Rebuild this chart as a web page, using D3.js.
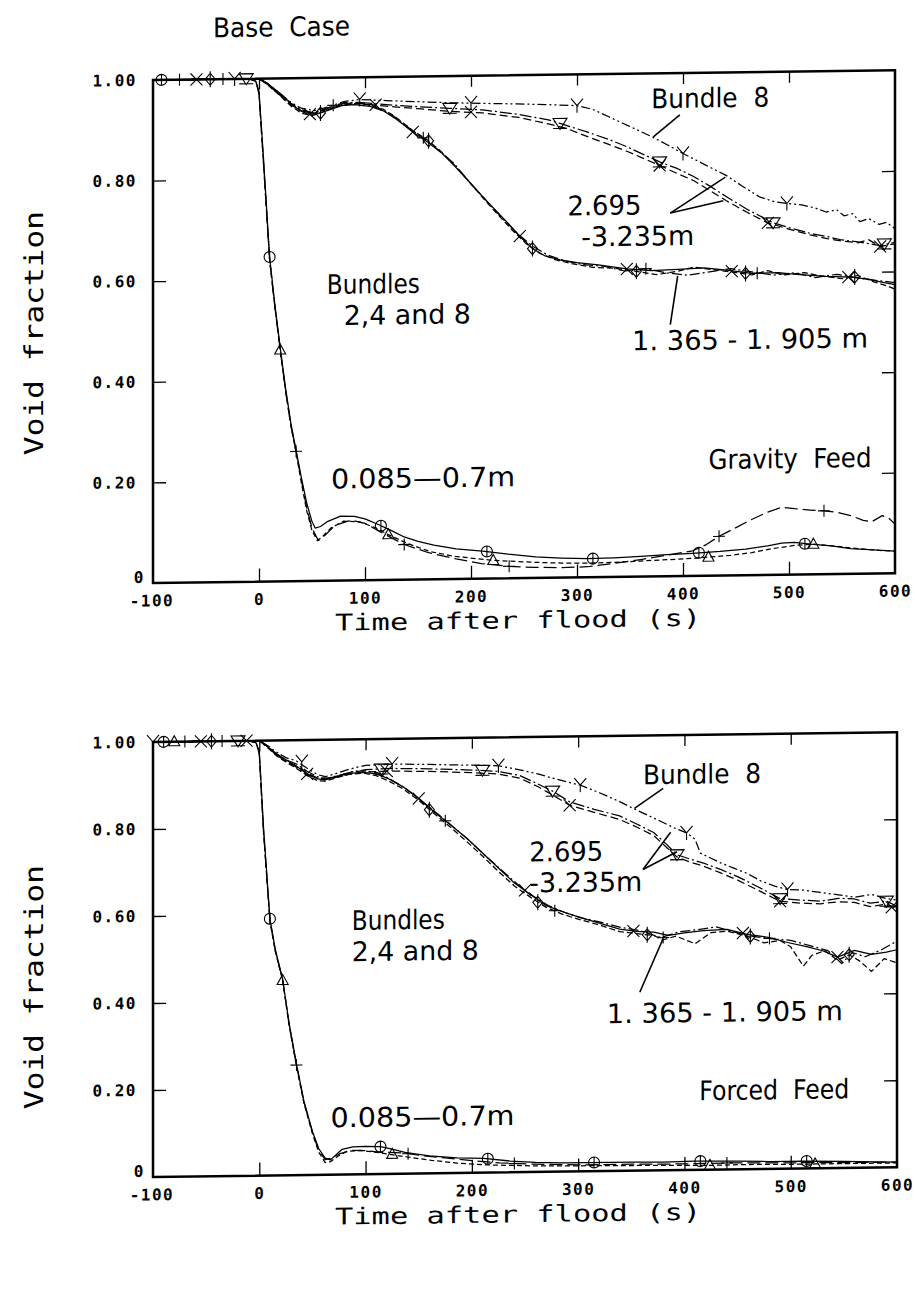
<!DOCTYPE html>
<html><head><meta charset="utf-8">
<script src="https://cdn.jsdelivr.net/npm/d3@7"></script>
<style>
html,body{margin:0;padding:0;background:#fff;}
svg{display:block;}
text{white-space:pre;}
</style></head><body>
<svg id="chart" width="915" height="1305"></svg>
<script>
// ---------- axis ticks ----------
const xTicks = [-100, 0, 100, 200, 300, 400, 500, 600];
const xTickLabels = ["-100", "0", "100", "200", "300", "400", "500", "600"];
const yTicks = [0, 0.2, 0.4, 0.6, 0.8, 1.0];
const yTickLabels = ["0", "0.20", "0.40", "0.60", "0.80", "1.00"];

// ---------- TOP PANEL (Gravity Feed) ----------
// 0.085-0.7 m
const tL1 = [[-100,1],[-10,1],[-3,0.995],[0,0.975],[4,0.85],[10,0.645],[15,0.55],[20,0.465],[25,0.385],[30,0.315],[35,0.26],[40,0.205],[45,0.155],[50,0.118],[53,0.105],[58,0.108],[65,0.118],[77,0.128],[90,0.127],[100,0.122],[112,0.111],[125,0.098],[137,0.085],[150,0.076],[165,0.068],[186,0.06],[211,0.055],[235,0.048],[261,0.042],[285,0.039],[310,0.037],[335,0.038],[360,0.04],[385,0.043],[409,0.045],[435,0.048],[459,0.052],[480,0.058],[493,0.063],[505,0.064],[520,0.06],[540,0.056],[558,0.05],[580,0.047],[600,0.044]];
const tL2 = [[-100,1],[-10,1],[-3,0.995],[0,0.97],[4,0.84],[10,0.64],[15,0.545],[20,0.46],[25,0.38],[30,0.31],[35,0.255],[40,0.195],[45,0.14],[50,0.1],[55,0.08],[60,0.088],[68,0.105],[80,0.118],[95,0.116],[110,0.104],[122,0.09],[140,0.072],[162,0.055],[185,0.045],[205,0.04],[221,0.036],[245,0.033],[261,0.031],[285,0.029],[310,0.028],[335,0.029],[360,0.031],[385,0.033],[410,0.035],[424,0.037],[445,0.04],[465,0.045],[484,0.052],[505,0.058],[523,0.06],[545,0.055],[565,0.05],[585,0.046],[600,0.044]];
const tL3 = [[-100,1],[-10,1],[-3,0.995],[0,0.97],[4,0.84],[10,0.64],[15,0.545],[20,0.46],[25,0.38],[30,0.31],[35,0.258],[40,0.2],[45,0.145],[50,0.105],[56,0.08],[62,0.09],[72,0.11],[87,0.12],[100,0.113],[115,0.095],[137,0.07],[160,0.053],[186,0.04],[210,0.03],[236,0.024],[260,0.021],[285,0.02],[310,0.021],[335,0.027],[360,0.034],[385,0.042],[409,0.05],[422,0.062],[434,0.078],[450,0.095],[464,0.11],[480,0.125],[493,0.134],[505,0.131],[520,0.128],[533,0.126],[545,0.123],[558,0.116],[570,0.106],[578,0.103],[588,0.115],[594,0.11],[600,0.098]];
// 1.365-1.905 m
const tM1 = [[-100,1],[0,1],[8,0.99],[20,0.97],[30,0.95],[38,0.936],[46,0.928],[54,0.928],[65,0.935],[78,0.944],[90,0.946],[105,0.942],[118,0.932],[130,0.915],[145,0.89],[160,0.868],[172,0.848],[185,0.82],[196,0.795],[210,0.762],[222,0.735],[234,0.708],[246,0.68],[258,0.655],[270,0.64],[284,0.632],[300,0.626],[320,0.621],[347,0.612],[370,0.608],[395,0.61],[420,0.612],[441,0.607],[465,0.6],[490,0.601],[510,0.596],[535,0.592],[560,0.59],[575,0.585],[590,0.578],[600,0.574]];
const tM2 = [[-100,1],[0,1],[8,0.988],[20,0.965],[30,0.945],[40,0.93],[50,0.925],[60,0.932],[75,0.945],[90,0.948],[105,0.945],[118,0.935],[130,0.918],[145,0.893],[160,0.872],[172,0.85],[185,0.822],[198,0.79],[212,0.755],[226,0.722],[240,0.69],[252,0.665],[265,0.645],[280,0.632],[295,0.624],[315,0.616],[335,0.614],[356,0.607],[375,0.6],[395,0.606],[410,0.614],[430,0.608],[450,0.602],[465,0.597],[480,0.605],[495,0.596],[515,0.6],[530,0.593],[550,0.587],[565,0.593],[580,0.58],[592,0.572],[600,0.565]];
const tM3 = [[-100,1],[0,1],[8,0.99],[20,0.968],[30,0.948],[40,0.934],[52,0.93],[65,0.94],[80,0.95],[95,0.95],[110,0.94],[125,0.925],[140,0.9],[155,0.878],[170,0.852],[184,0.826],[200,0.785],[215,0.75],[230,0.715],[245,0.683],[258,0.66],[272,0.642],[288,0.63],[305,0.622],[325,0.618],[345,0.608],[365,0.612],[385,0.603],[405,0.598],[425,0.604],[445,0.61],[465,0.603],[485,0.596],[505,0.6],[525,0.59],[545,0.596],[565,0.588],[585,0.582],[600,0.578]];
// 2.695-3.235 m (U1 = Bundle 8)
const tU1 = [[-100,1],[0,1],[8,0.99],[20,0.97],[30,0.952],[40,0.94],[52,0.935],[65,0.942],[80,0.952],[95,0.956],[120,0.953],[150,0.95],[180,0.947],[210,0.945],[243,0.943],[270,0.941],[300,0.938],[315,0.93],[330,0.915],[347,0.898],[369,0.876],[385,0.858],[400,0.84],[420,0.818],[441,0.795],[455,0.775],[472,0.752],[486,0.742],[498,0.738],[512,0.735],[525,0.728],[535,0.72],[545,0.724],[552,0.712],[560,0.716],[567,0.7],[575,0.706],[585,0.694],[592,0.698],[600,0.685]];
const tU2 = [[-100,1],[0,1],[8,0.99],[20,0.968],[30,0.95],[40,0.937],[52,0.93],[65,0.94],[80,0.948],[95,0.95],[120,0.945],[150,0.94],[180,0.936],[211,0.932],[245,0.922],[274,0.91],[284,0.903],[310,0.885],[330,0.87],[347,0.855],[362,0.84],[378,0.824],[395,0.81],[410,0.794],[425,0.775],[441,0.753],[460,0.728],[485,0.7],[500,0.69],[520,0.678],[536,0.671],[550,0.664],[565,0.66],[586,0.652],[600,0.658]];
const tU3 = [[-100,1],[0,1],[8,0.988],[20,0.966],[30,0.948],[40,0.935],[52,0.93],[65,0.938],[80,0.946],[95,0.948],[120,0.942],[150,0.936],[180,0.93],[211,0.926],[245,0.916],[274,0.902],[290,0.893],[310,0.876],[330,0.86],[347,0.846],[362,0.832],[378,0.817],[395,0.8],[410,0.786],[425,0.766],[441,0.745],[460,0.722],[480,0.7],[500,0.687],[520,0.675],[536,0.667],[550,0.662],[565,0.658],[575,0.664],[586,0.65],[600,0.655]];
// marker positions (top)
const tL1m = [[-92,1],[10,0.645],[115,0.108],[215,0.054],[315,0.037],[415,0.046],[515,0.061]];
const tL2m = [[20,0.46],[122,0.09],[221,0.036],[424,0.037],[523,0.06]];
const tL3m = [[-75,1],[35,0.258],[137,0.07],[236,0.024],[434,0.078],[533,0.126]];
const tM1m = [[-59,1],[48,0.928],[145,0.89],[246,0.68],[347,0.612],[446,0.605],[556,0.59]];
const tM2m = [[-46,1],[58,0.93],[160,0.872],[258,0.655],[356,0.607],[459,0.6],[562,0.59]];
const tM3m = [[-34,1],[70,0.945],[155,0.878],[365,0.612],[470,0.6]];
const tU1m = [[-23,1],[95,0.956],[200,0.946],[300,0.938],[400,0.84],[498,0.738]];
const tU2m = [[-12,1],[180,0.936],[284,0.903],[378,0.824],[485,0.7],[590,0.655]];
const tU3m = [[110,0.945],[200,0.928],[378,0.817],[480,0.7],[586,0.65]];

// ---------- BOTTOM PANEL (Forced Feed) ----------
const bL1 = [[-100,1],[-10,1],[-3,0.995],[0,0.975],[4,0.8],[10,0.59],[15,0.52],[22,0.45],[28,0.35],[35,0.255],[42,0.17],[50,0.1],[56,0.06],[62,0.038],[67,0.034],[72,0.045],[78,0.058],[88,0.063],[100,0.064],[114,0.063],[125,0.057],[137,0.049],[160,0.04],[186,0.035],[211,0.033],[236,0.026],[260,0.022],[285,0.02],[310,0.02],[350,0.02],[380,0.019],[409,0.02],[450,0.019],[480,0.017],[513,0.017],[550,0.015],[580,0.013],[600,0.012]];
const bL2 = [[-100,1],[-10,1],[-3,0.995],[0,0.97],[4,0.79],[10,0.585],[15,0.515],[22,0.448],[28,0.345],[35,0.25],[42,0.165],[50,0.095],[56,0.052],[62,0.028],[67,0.03],[74,0.042],[82,0.053],[95,0.055],[110,0.05],[122,0.045],[140,0.038],[162,0.03],[186,0.023],[211,0.018],[236,0.016],[261,0.014],[300,0.013],[350,0.012],[400,0.011],[424,0.01],[470,0.011],[500,0.01],[523,0.01],[560,0.01],[600,0.01]];
const bL3 = [[-100,1],[-10,1],[-3,0.995],[0,0.97],[4,0.79],[10,0.588],[15,0.518],[22,0.45],[28,0.348],[35,0.253],[42,0.168],[50,0.098],[56,0.055],[62,0.035],[68,0.038],[76,0.048],[87,0.055],[100,0.054],[115,0.05],[134,0.048],[150,0.042],[175,0.035],[200,0.028],[226,0.022],[260,0.018],[300,0.015],[350,0.015],[400,0.014],[440,0.015],[480,0.014],[520,0.013],[560,0.012],[600,0.012]];
const bM1 = [[-100,1],[0,1],[8,0.985],[16,0.97],[25,0.955],[35,0.94],[45,0.922],[55,0.91],[62,0.908],[72,0.915],[85,0.922],[98,0.924],[110,0.92],[122,0.908],[135,0.89],[150,0.862],[165,0.83],[180,0.8],[195,0.77],[210,0.735],[225,0.7],[240,0.665],[255,0.638],[270,0.612],[285,0.598],[300,0.585],[320,0.57],[339,0.556],[355,0.55],[371,0.548],[385,0.54],[400,0.545],[418,0.55],[440,0.552],[459,0.54],[480,0.532],[497,0.52],[515,0.51],[530,0.5],[544,0.485],[560,0.5],[576,0.49],[590,0.495],[600,0.5]];
const bM2 = [[-100,1],[0,1],[8,0.983],[16,0.965],[25,0.95],[35,0.935],[45,0.918],[55,0.906],[62,0.905],[72,0.912],[85,0.92],[98,0.922],[110,0.916],[122,0.903],[135,0.885],[150,0.858],[165,0.826],[180,0.795],[195,0.762],[210,0.728],[225,0.692],[240,0.658],[255,0.632],[270,0.608],[285,0.592],[300,0.58],[320,0.566],[339,0.55],[355,0.545],[371,0.54],[380,0.53],[392,0.538],[410,0.52],[425,0.545],[440,0.548],[459,0.536],[475,0.52],[490,0.525],[500,0.51],[512,0.465],[520,0.49],[532,0.5],[544,0.478],[555,0.49],[565,0.475],[576,0.451],[588,0.48],[600,0.47]];
const bM3 = [[-100,1],[0,1],[8,0.987],[16,0.968],[25,0.952],[35,0.938],[45,0.92],[55,0.912],[65,0.912],[75,0.918],[88,0.926],[100,0.927],[112,0.922],[125,0.905],[138,0.885],[152,0.858],[168,0.826],[182,0.797],[197,0.765],[212,0.73],[228,0.695],[243,0.662],[258,0.634],[272,0.612],[288,0.595],[303,0.583],[322,0.572],[340,0.56],[358,0.552],[378,0.535],[395,0.548],[412,0.552],[430,0.558],[448,0.545],[465,0.535],[485,0.528],[500,0.525],[518,0.512],[535,0.5],[548,0.47],[558,0.495],[570,0.485],[585,0.5],[600,0.52]];
const bU1 = [[-100,1],[0,1],[8,0.988],[15,0.975],[25,0.96],[35,0.952],[45,0.935],[55,0.92],[62,0.915],[72,0.922],[85,0.932],[100,0.94],[125,0.942],[160,0.94],[200,0.937],[225,0.935],[245,0.925],[262,0.915],[280,0.902],[302,0.888],[320,0.87],[339,0.849],[355,0.829],[377,0.803],[392,0.785],[402,0.775],[410,0.76],[415,0.728],[425,0.716],[434,0.705],[447,0.692],[459,0.68],[472,0.662],[485,0.65],[497,0.642],[512,0.64],[528,0.634],[545,0.628],[560,0.622],[576,0.628],[590,0.618],[600,0.614]];
const bU2 = [[-100,1],[0,1],[8,0.987],[15,0.97],[25,0.955],[35,0.945],[45,0.928],[55,0.915],[62,0.91],[72,0.915],[85,0.924],[100,0.93],[125,0.932],[160,0.93],[200,0.926],[225,0.922],[245,0.912],[262,0.892],[276,0.875],[292,0.85],[315,0.832],[339,0.816],[355,0.797],[371,0.777],[382,0.752],[393,0.725],[405,0.715],[418,0.705],[434,0.69],[450,0.673],[470,0.648],[490,0.621],[510,0.617],[528,0.614],[545,0.62],[560,0.618],[575,0.608],[590,0.612],[600,0.6]];
const bU3 = [[-100,1],[0,1],[8,0.986],[15,0.968],[25,0.952],[35,0.94],[45,0.924],[55,0.912],[62,0.908],[72,0.913],[85,0.92],[100,0.925],[125,0.926],[160,0.924],[200,0.92],[225,0.916],[245,0.906],[262,0.886],[276,0.866],[292,0.842],[315,0.825],[339,0.808],[355,0.79],[371,0.77],[382,0.745],[393,0.72],[405,0.708],[418,0.698],[434,0.682],[450,0.665],[470,0.64],[490,0.615],[510,0.61],[528,0.608],[545,0.612],[560,0.61],[575,0.6],[590,0.605],[600,0.595]];
const bL1m = [[-90,1],[10,0.59],[114,0.063],[215,0.032],[315,0.02],[415,0.02],[515,0.017]];
const bL2m = [[-80,1],[22,0.448],[125,0.045],[424,0.01],[523,0.01]];
const bL3m = [[-70,1],[35,0.253],[140,0.046],[240,0.02],[440,0.015]];
const bM1m = [[-55,1],[45,0.922],[150,0.862],[250,0.648],[352,0.551],[455,0.543],[544,0.485]];
const bM2m = [[-45,1],[160,0.836],[262,0.62],[365,0.542],[462,0.535],[555,0.49]];
const bM3m = [[-35,1],[175,0.81],[278,0.6],[380,0.535],[480,0.53]];
const bU1m = [[-100,1],[40,0.95],[125,0.942],[225,0.935],[302,0.888],[402,0.775],[497,0.642]];
const bU2m = [[-20,1],[115,0.931],[210,0.925],[276,0.875],[393,0.725],[490,0.621],[590,0.612]];
const bU3m = [[-12,1],[120,0.926],[292,0.842],[490,0.615],[595,0.598]];

// ---------- annotations (data coordinates) ----------
const topNotes = [
  {text:"Bundle  8", t:370, v:0.931, w:118},
  {text:"2.695", t:291, v:0.72, w:74},
  {text:"-3.235m", t:304, v:0.658, w:113},
  {text:"Bundles", t:64, v:0.57, w:93},
  {text:"2,4 and 8", t:80, v:0.508, w:127},
  {text:"1. 365 - 1. 905 m", t:352, v:0.45, w:236},
  {text:"0.085\u20140.7m", t:68, v:0.183, w:184},
  {text:"Gravity  Feed", t:424, v:0.212, w:163}
];
const topLeaders = [[397,0.917,372,0.874],[388,0.722,440,0.792],[388,0.722,438,0.745],[395,0.597,388,0.50]];
const botNotes = [
  {text:"Bundle  8", t:361, v:0.888, w:118},
  {text:"2.695", t:254, v:0.714, w:74},
  {text:"-3.235m", t:254, v:0.643, w:113},
  {text:"Bundles", t:87, v:0.562, w:93},
  {text:"2,4 and 8", t:87, v:0.49, w:127},
  {text:"1. 365 - 1. 905 m", t:327, v:0.34, w:236},
  {text:"0.085\u20140.7m", t:67, v:0.109, w:184},
  {text:"Forced  Feed", t:414, v:0.16, w:150}
];
const botLeaders = [[380,0.878,353,0.833],[361,0.692,387,0.777],[361,0.692,393,0.732],[358,0.41,380,0.533]];

// ---------- styles ----------
const styleOf = {
  L1:{dash:null, marker:'circle'}, L2:{dash:'5,3', marker:'tri'}, L3:{dash:'13,5', marker:'plus'},
  M1:{dash:null, marker:'cross'}, M2:{dash:'6,3', marker:'diamond'}, M3:{dash:'10,3,2,3', marker:'plus'},
  U1:{dash:'9,3,2,3,2,3', marker:'Y'}, U2:{dash:'12,3,2,3', marker:'nabla'}, U3:{dash:'8,4', marker:'cross'}
};
const markerPath = {
  circle:'M-5.5,0a5.5,5.5 0 1,0 11,0a5.5,5.5 0 1,0 -11,0M0,-5.5V5.5',
  tri:'M0,-6L5.5,4L-5.5,4Z',
  plus:'M-6,0H6M0,-6V6',
  cross:'M-6,-6L6,6M-6,6L6,-6',
  diamond:'M0,-6L5,0L0,6L-5,0ZM0,-8V8',
  Y:'M-6,-7L0,0L6,-7M0,0V7',
  nabla:'M-7,-5H7L0,6ZM-7,5H7'
};

const SKEW = -0.75;
const svg = d3.select('#chart');

const panels = [
  {left:153, top:80, width:742, height:503, titleShift:0.5,
   series:[['L1',tL1,tL1m],['L2',tL2,tL2m],['L3',tL3,tL3m],['M1',tM1,tM1m],['M2',tM2,tM2m],['M3',tM3,tM3m],['U1',tU1,tU1m],['U2',tU2,tU2m],['U3',tU3,tU3m]],
   notes:topNotes, leaders:topLeaders, heading:"Base  Case"},
  {left:153, top:742, width:744, height:435, titleShift:0.56,
   series:[['L1',bL1,bL1m],['L2',bL2,bL2m],['L3',bL3,bL3m],['M1',bM1,bM1m],['M2',bM2,bM2m],['M3',bM3,bM3m],['U1',bU1,bU1m],['U2',bU2,bU2m],['U3',bU3,bU3m]],
   notes:botNotes, leaders:botLeaders, heading:null}
];

const tickFont = "'DejaVu Sans Mono', monospace";
const noteFont = "'DejaVu Sans Condensed','Liberation Sans Narrow','Roboto Condensed','DejaVu Sans',sans-serif";

panels.forEach(p => {
  const g = svg.append('g').attr('transform', `translate(${p.left},${p.top}) skewY(${SKEW})`);
  const x = d3.scaleLinear().domain([-100, 600]).range([0, p.width]);
  const y = d3.scaleLinear().domain([0, 1]).range([p.height, 0]);

  // axes
  const inner = xTicks.filter(d => d > -100 && d < 600);
  const ax = g.append('g').attr('transform', `translate(0,${p.height})`)
    .call(d3.axisBottom(x).tickValues(xTicks).tickSize(-13).tickPadding(12)
      .tickFormat((d,i) => xTickLabels[i]));
  ax.selectAll('line').filter(d => d === -100 || d === 600).remove();
  const axL = g.append('g')
    .call(d3.axisLeft(y).tickValues(yTicks).tickSize(-13).tickPadding(16)
      .tickFormat((d,i) => yTickLabels[i]));
  axL.selectAll('line').filter(d => d === 0 || d === 1).remove();
  axL.selectAll('text').filter(d => d === 0).attr('x', -8).attr('dy', '-0.05em');
  g.append('g').attr('transform', `translate(${p.width},0)`)
    .call(d3.axisRight(y).tickValues(yTicks.filter(d => d > 0 && d < 1)).tickSize(-13).tickFormat(''));
  g.append('g')
    .call(d3.axisTop(x).tickValues(inner).tickSize(-11).tickFormat(''));
  g.selectAll('.domain').remove();
  g.selectAll('.tick line').attr('stroke', '#000').attr('stroke-width', 1.3);
  g.selectAll('.tick text').attr('font-family', tickFont).attr('font-weight', 'bold')
    .attr('font-size', 16).attr('letter-spacing', '1.5px').attr('fill', '#000');
  ax.selectAll('.tick text').filter(d => d === -100).attr('dx', '-0.1em');

  // frame
  g.append('rect').attr('x', 0).attr('y', 0).attr('width', p.width).attr('height', p.height)
    .attr('fill', 'none').attr('stroke', '#000').attr('stroke-width', 2.5);

  // curves
  const line = d3.line().x(d => x(d[0])).y(d => y(d[1]));
  p.series.forEach(([key, data, marks]) => {
    const st = styleOf[key];
    g.append('path').datum(data).attr('d', line)
      .attr('fill', 'none').attr('stroke', '#000').attr('stroke-width', 1.25)
      .attr('stroke-linejoin', 'round')
      .attr('stroke-dasharray', st.dash);
    g.selectAll(null).data(marks).enter().append('path')
      .attr('transform', d => `translate(${x(d[0])},${y(d[1])})`)
      .attr('d', markerPath[st.marker])
      .attr('fill', 'none').attr('stroke', '#000').attr('stroke-width', 1.1);
  });

  // leaders
  g.selectAll(null).data(p.leaders).enter().append('line')
    .attr('x1', d => x(d[0])).attr('y1', d => y(d[1]))
    .attr('x2', d => x(d[2])).attr('y2', d => y(d[3]))
    .attr('stroke', '#000').attr('stroke-width', 1.6);

  // notes
  g.selectAll(null).data(p.notes).enter().append('text')
    .attr('x', d => x(d.t)).attr('y', d => y(d.v))
    .attr('font-family', noteFont).attr('font-size', 27).attr('fill', '#000')
    .attr('textLength', d => d.w).attr('lengthAdjust', 'spacingAndGlyphs')
    .text(d => d.text);

  // axis titles
  g.append('text').attr('x', 365).attr('y', p.height + 50)
    .attr('text-anchor', 'middle').attr('font-family', tickFont).attr('font-size', 23)
    .attr('textLength', 366).attr('lengthAdjust', 'spacingAndGlyphs')
    .text('Time after flood (s)');
  g.append('text')
    .attr('transform', `translate(-110,${p.height * p.titleShift}) rotate(-90)`)
    .attr('text-anchor', 'middle').attr('font-family', tickFont).attr('font-size', 26)
    .attr('textLength', 244).attr('lengthAdjust', 'spacingAndGlyphs')
    .text('Void fraction');

  if (p.heading) {
    g.append('text').attr('x', 60).attr('y', -42)
      .attr('font-family', noteFont).attr('font-size', 27)
      .attr('textLength', 137).attr('lengthAdjust', 'spacingAndGlyphs')
      .text(p.heading);
  }
});
</script>
</body></html>
